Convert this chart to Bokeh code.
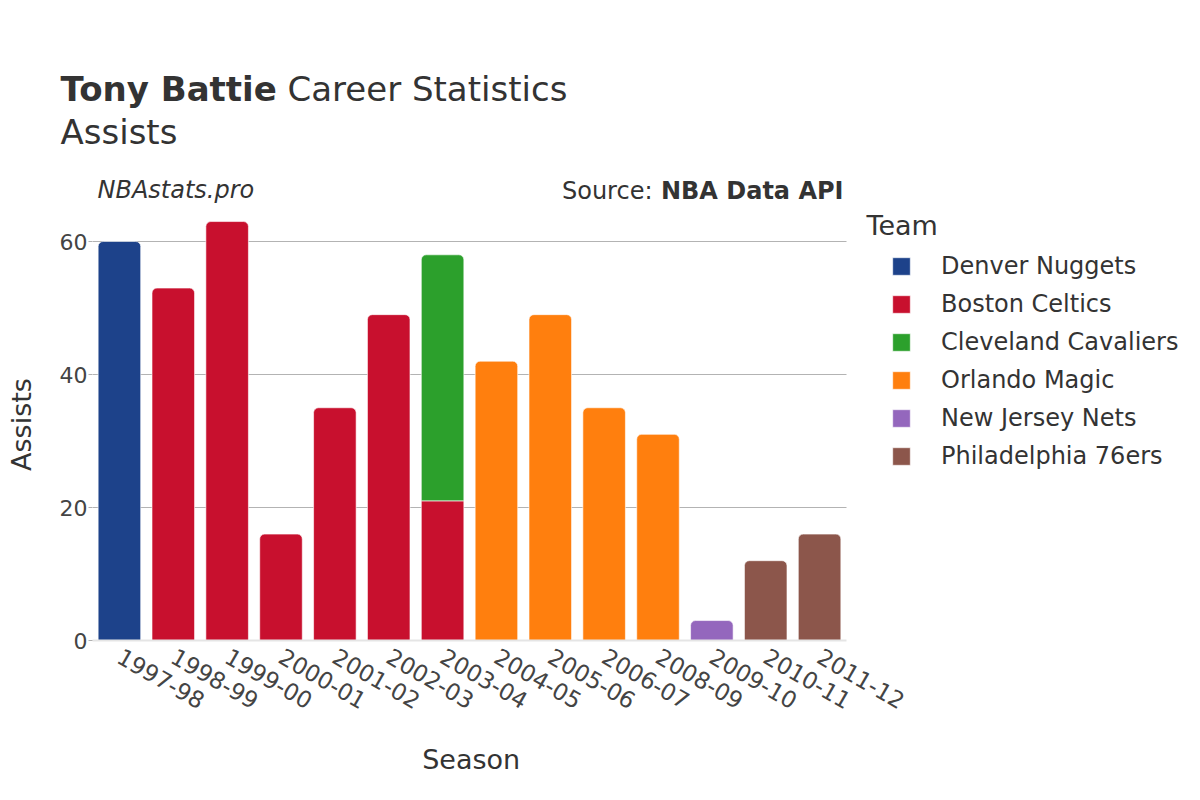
import math
from bokeh.plotting import figure
from bokeh.models import ColumnDataSource, Range1d, FixedTicker, Label, Legend, LegendItem
from bokeh.embed import file_html
from bokeh.resources import INLINE

# ---- data ----
seasons = ["1997-98", "1998-99", "1999-00", "2000-01", "2001-02", "2002-03", "2003-04",
           "2004-05", "2005-06", "2006-07", "2008-09", "2009-10", "2010-11", "2011-12"]
teams = ["Denver Nuggets", "Boston Celtics", "Cleveland Cavaliers", "Orlando Magic",
         "New Jersey Nets", "Philadelphia 76ers"]
team_colors = ["#1d428a", "#c8102e", "#2ca02c", "#ff7f0e", "#9467bd", "#8c564b"]
denver_nuggets = [60, 0, 0, 0, 0, 0, 0, 0, 0, 0, 0, 0, 0, 0]
boston_celtics = [0, 53, 63, 16, 35, 49, 21, 0, 0, 0, 0, 0, 0, 0]
cleveland_cavaliers = [0, 0, 0, 0, 0, 0, 37, 0, 0, 0, 0, 0, 0, 0]
orlando_magic = [0, 0, 0, 0, 0, 0, 0, 42, 49, 35, 31, 0, 0, 0]
new_jersey_nets = [0, 0, 0, 0, 0, 0, 0, 0, 0, 0, 0, 3, 0, 0]
philadelphia_76ers = [0, 0, 0, 0, 0, 0, 0, 0, 0, 0, 0, 0, 12, 16]
y_ticks = [0, 20, 40, 60]

series = [denver_nuggets, boston_celtics, cleveland_cavaliers, orlando_magic,
          new_jersey_nets, philadelphia_76ers]

FONT = "DejaVu Sans"
TXT = "#333333"
MID = 0.346   # offset between the alphabetic baseline and the text's vertical middle (em)

# ---- layout (pixels) ----
W, H = 1184, 784
LEFT, TOP, BOTTOM = 92, 208, 144          # frame: x 92..1184, y 208..640
BAR_AREA = 754                            # width of the bar area inside the frame
PX_PER_UNIT = 6.65
n = len(seasons)
x_end = -0.5 + n * (W - LEFT) / BAR_AREA
y_max = (H - BOTTOM - TOP) / PX_PER_UNIT
FRAME_BOTTOM = H - BOTTOM

p = figure(width=W, height=H, x_range=Range1d(-0.5, x_end), y_range=Range1d(0, y_max),
           output_backend="svg", toolbar_location=None,
           min_border_left=LEFT, min_border_right=0, min_border_top=TOP, min_border_bottom=BOTTOM)
p.outline_line_color = None
p.background_fill_color = "white"
p.border_fill_color = "white"

# ---- stacked bars ----
xs = list(range(n))
totals = [sum(s[i] for s in series) for i in range(n)]
bottom_acc = [0] * n
legend_items = []
for name, col, vals in zip(teams, team_colors, series):
    top_d = dict(x=[], bottom=[], top=[])
    mid_d = dict(x=[], bottom=[], top=[])
    for i, v in enumerate(vals):
        if v <= 0:
            continue
        b = bottom_acc[i]
        tp = b + v
        d = top_d if tp >= totals[i] else mid_d
        d["x"].append(xs[i]); d["bottom"].append(b); d["top"].append(tp)
        bottom_acc[i] = tp
    r = p.vbar(x="x", bottom="bottom", top="top", width=0.79, source=ColumnDataSource(top_d),
               fill_color=col, line_color="white", line_width=1, line_alpha=0.6,
               border_radius=(5, 5, 0, 0))
    if mid_d["x"]:
        p.vbar(x="x", bottom="bottom", top="top", width=0.79, source=ColumnDataSource(mid_d),
               fill_color=col, line_color="white", line_width=1, line_alpha=0.6)
    legend_items.append(LegendItem(label=name, renderers=[r]))

# ---- axes ----
p.yaxis.ticker = FixedTicker(ticks=y_ticks)
p.yaxis.axis_line_color = None
p.yaxis.major_tick_line_color = "#b0b0b0"
p.yaxis.major_tick_out = 4
p.yaxis.major_tick_in = 0
p.yaxis.minor_tick_line_color = None
p.yaxis.major_label_standoff = 1
p.yaxis.major_label_text_font = FONT
p.yaxis.major_label_text_font_size = "22px"
p.yaxis.major_label_text_color = "#444444"
p.yaxis.axis_label = "Assists"
p.yaxis.axis_label_text_font = FONT
p.yaxis.axis_label_text_font_size = "27px"
p.yaxis.axis_label_text_font_style = "normal"
p.yaxis.axis_label_text_color = TXT
p.yaxis.axis_label_standoff = 20

p.xaxis.bounds = (-0.5, n - 0.5)
p.xaxis.ticker = FixedTicker(ticks=xs)
p.xaxis.major_label_overrides = {i: s for i, s in zip(xs, seasons)}
p.xaxis.axis_line_color = "#e5e5e5"
p.xaxis.axis_line_width = 2
p.xaxis.major_tick_line_color = None
p.xaxis.minor_tick_line_color = None
p.xaxis.major_label_orientation = -math.pi / 6
p.xaxis.major_label_standoff = 8
p.xaxis.major_label_text_font = FONT
p.xaxis.major_label_text_font_size = "23px"
p.xaxis.major_label_text_color = "#444444"
# the axis label is centred on the whole frame; pad it so it sits under the bars
p.xaxis.axis_label = "Season" + "\u00a0" * 39
p.xaxis.axis_label_text_font = FONT
p.xaxis.axis_label_text_font_size = "27px"
p.xaxis.axis_label_text_font_style = "normal"
p.xaxis.axis_label_text_color = TXT
p.xaxis.axis_label_standoff = 24

p.xgrid.grid_line_color = None
p.ygrid.grid_line_color = "#b3b3b3"
p.ygrid.grid_line_width = 1
try:
    p.ygrid.cross_bounds = (-0.5, n - 0.5)
except Exception:
    p.ygrid.grid_line_color = None
    p.segment(x0=[-0.5] * len(y_ticks), x1=[n - 0.5] * len(y_ticks), y0=y_ticks, y1=y_ticks,
              line_color="#b3b3b3", line_width=1, level="underlay")

# ---- legend (inside the wide frame, right of the bars) ----
legend = Legend(items=legend_items, location=(890 - LEFT, 170), orientation="vertical",
                glyph_width=22, glyph_height=22, label_standoff=29, spacing=10,
                padding=0, margin=0, border_line_color=None, background_fill_alpha=0,
                label_text_font=FONT, label_text_font_size="24px", label_text_color=TXT)
p.add_layout(legend, "center")
p.add_layout(Label(x=866 - LEFT, y=FRAME_BOTTOM - (234 - MID * 27), x_units="screen",
                   y_units="screen", text="Team", text_font=FONT, text_font_size="27px",
                   text_color=TXT, text_baseline="alphabetic"))

# ---- header: stacked rows in the 'above' panel, nearest the frame first ----
header = [  # (text, size px, style, align, page x, baseline y from page top)
    ("NBAstats.pro", 24, "italic", "left", 97, 198),
    ("Source:", 24, "normal", "right", 652, 199),
    ("NBA Data API", 24, "bold", "right", 843, 199),
    ("Assists", 34, "normal", "left", 60, 143),
    ("Career Statistics", 34, "normal", "left", 287, 101),
    ("Tony Battie", 34, "bold", "left", 60, 101),
]
row_bottom = TOP
for text, size, style, align, x, base in header:
    p.add_layout(Label(x=x - LEFT, y=row_bottom - (base - MID * size), x_units="screen",
                       y_units="screen", text=text, text_font=FONT,
                       text_font_size=f"{size}px", text_font_style=style, text_color=TXT,
                       text_align=align, text_baseline="alphabetic"), "above")
    row_bottom -= 1.164 * size

open("out.html", "w").write(file_html(p, INLINE))
